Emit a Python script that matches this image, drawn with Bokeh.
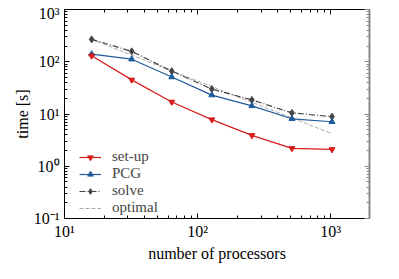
from bokeh.plotting import figure
from bokeh.models import LogAxis, FixedTicker, CustomJSTickFormatter, Legend, LegendItem, Range1d
from bokeh.embed import file_html
from bokeh.resources import INLINE

procs = [16, 32, 64, 128, 256, 512, 1024]
setup = [130, 45, 17, 7.8, 3.9, 2.2, 2.1]
pcg = [140, 112, 51, 23, 14.3, 8.1, 7.1]
solve = [268, 158, 66, 30, 18.6, 10.5, 8.9]
optimal = [268, 134, 67, 33.5, 16.75, 8.4, 4.2]

x_major = [10, 100, 1000]
x_minor = [20, 30, 40, 50, 60, 70, 80, 90, 200, 300, 400, 500, 600, 700, 800, 900]
y_major = [0.1, 1, 10, 100, 1000]
y_minor = [m * d for d in [0.1, 1, 10, 100] for m in range(2, 10)]

FONT = "Liberation Serif"

p = figure(frame_width=305, frame_height=209, x_axis_type="log", y_axis_type="log",
           x_range=Range1d(10, 1960), y_range=Range1d(0.1, 1000),
           output_backend="svg", toolbar_location=None,
           min_border_left=0, min_border_right=0, min_border_top=0, min_border_bottom=0)
p.margin = (4, 0, 0, 10)
p.grid.visible = False
p.outline_line_color = None
p.background_fill_color = "white"
p.border_fill_color = "white"

fmt = CustomJSTickFormatter(code="""
const e = Math.round(Math.log10(tick));
const sup = {'-':'\\u207b','0':'\\u2070','1':'\\u00b9','2':'\\u00b2','3':'\\u00b3','4':'\\u2074','5':'\\u2075','6':'\\u2076','7':'\\u2077','8':'\\u2078','9':'\\u2079'};
return '10' + String(e).split('').map(c => sup[c]).join('');
""")
blank = CustomJSTickFormatter(code="return ' ';")

def style(ax, major, minor, color="black", width=1, labels=True):
    ax.ticker = FixedTicker(ticks=major, minor_ticks=minor)
    ax.axis_line_color = color
    ax.axis_line_width = width
    ax.major_tick_line_color = color
    ax.minor_tick_line_color = color
    ax.major_tick_in = 5
    ax.major_tick_out = 0
    ax.minor_tick_in = 3
    ax.minor_tick_out = 0
    ax.major_label_text_font = FONT
    ax.major_label_text_font_size = "16px"
    ax.major_label_text_color = "black"
    ax.axis_label_text_font = FONT
    ax.axis_label_text_font_size = "16px"
    ax.axis_label_text_font_style = "normal"
    ax.axis_label_text_color = "black"
    if labels:
        ax.formatter = fmt
    else:
        ax.formatter = blank
        ax.major_label_text_font_size = "2px"
        ax.major_label_standoff = 0

style(p.xaxis[0], x_major, x_minor)
style(p.yaxis[0], y_major, y_minor)
p.xaxis[0].axis_label = "number of processors"
p.yaxis[0].axis_label = "time [s]"
p.xaxis[0].major_label_standoff = 4
p.yaxis[0].major_label_standoff = 5
p.xaxis[0].axis_label_standoff = 2
p.yaxis[0].axis_label_standoff = 0

top = LogAxis()
style(top, x_major, x_minor, labels=False)
p.add_layout(top, "above")
right = LogAxis()
style(right, y_major, y_minor, color="#888888", width=2, labels=False)
p.add_layout(right, "right")

r_opt = p.line(procs, optimal, line_color="#aaaaaa", line_width=1, line_dash="4 2")
r_solve = p.line(procs, solve, line_color="#444444", line_width=1.2, line_dash="6 2 1 2")
m_solve = p.scatter(procs, solve, marker="diamond", size=7, color="#444444")
r_pcg = p.line(procs, pcg, line_color="#1f5a9a", line_width=1.2)
m_pcg = p.scatter(procs, pcg, marker="triangle", size=6, color="#1f5a9a")
r_set = p.line(procs, setup, line_color="#d81b1b", line_width=1.2)
m_set = p.scatter(procs, setup, marker="inverted_triangle", size=6, color="#d81b1b")

legend = Legend(items=[
    LegendItem(label="set-up", renderers=[r_set, m_set]),
    LegendItem(label="PCG", renderers=[r_pcg, m_pcg]),
    LegendItem(label="solve", renderers=[r_solve, m_solve]),
    LegendItem(label="optimal", renderers=[r_opt]),
], location=(15, 2))
legend.border_line_color = None
legend.background_fill_alpha = 0
legend.label_text_font = FONT
legend.label_text_font_size = "15px"
legend.glyph_width = 22
legend.glyph_height = 14
legend.label_height = 14
legend.spacing = 0
legend.padding = 4
legend.margin = 0
legend.label_standoff = 11
p.add_layout(legend, "center")

open("out.html", "w").write(file_html(p, INLINE))
